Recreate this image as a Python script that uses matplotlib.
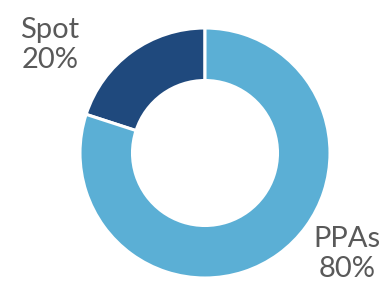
import matplotlib
matplotlib.use("Agg")
import matplotlib.pyplot as plt

categories = ["Spot", "PPAs"]
values = [20, 80]
colors = ["#1f497d", "#5bafd5"]

W, H = 383, 285
fig = plt.figure(figsize=(W / 100, H / 100), dpi=100)
ax = fig.add_axes([0, 0, 1, 1])

cx, cy, R = 205, H - 153, 125
ax.pie(values, colors=colors, startangle=90, counterclock=True,
       center=(cx, cy), radius=R, frame=True,
       wedgeprops=dict(width=R * 0.42, edgecolor="white", linewidth=2.2))
ax.set_xlim(0, W)
ax.set_ylim(0, H)
ax.set_aspect("equal")
ax.axis("off")

label_pos = {"Spot": (50, H - 45), "PPAs": (347, H - 254)}
for cat, v in zip(categories, values):
    x, y = label_pos[cat]
    ax.text(x, y, f"{cat}\n{v}%", ha="center", va="center",
            fontsize=21, color="#595959", family=["Lato", "DejaVu Sans"],
            linespacing=1.2)

fig.savefig("out.png", dpi=100)
